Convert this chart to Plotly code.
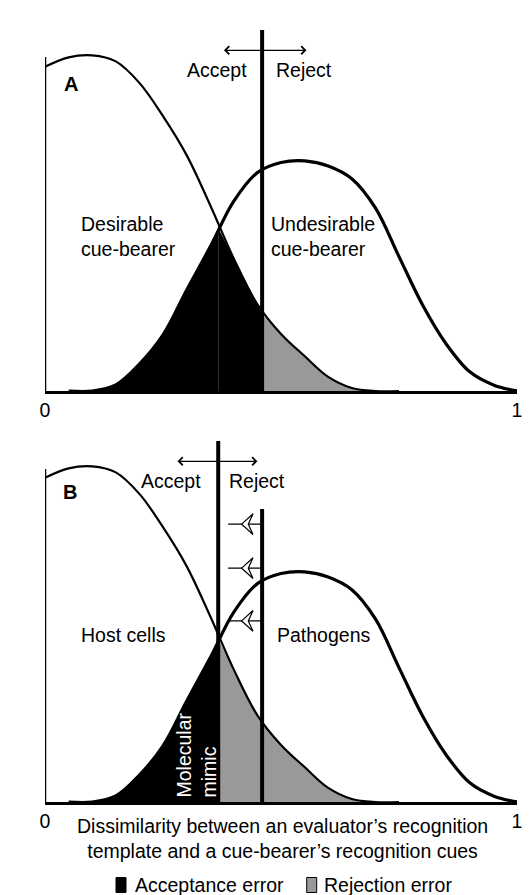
import plotly.graph_objects as go

# ---------------- data ----------------
dissimilarity = [0.00, 0.05, 0.10, 0.15, 0.20, 0.25, 0.30, 0.35, 0.40, 0.45, 0.50,
                 0.55, 0.60, 0.65, 0.70, 0.75, 0.80, 0.85, 0.90, 0.95, 1.00]
desirable = [0.965, 0.993, 0.999, 0.981, 0.917, 0.818, 0.702, 0.553, 0.394, 0.258, 0.170,
             0.104, 0.042, 0.009, 0.0, 0.0, 0.0, 0.0, 0.0, 0.0, 0.0]
undesirable = [0.0, 0.0, 0.0, 0.018, 0.080, 0.167, 0.300, 0.429, 0.565, 0.650, 0.680,
               0.685, 0.670, 0.632, 0.545, 0.400, 0.256, 0.140, 0.057, 0.018, 0.0]

crossing_x = 0.367        # where the two distributions meet
crossing_y = 0.485
threshold_A = 0.46        # acceptance threshold T, panel A
desirable_at_threshold_A = 0.228
threshold_B = 0.367       # acceptance threshold T, panel B (moved to the crossing)
old_threshold_B = 0.46    # former threshold shown in panel B
panel_top = 361 / 336     # y-range top (frequency units)
axis_top_A = 0.994
axis_top_B = 0.991
old_threshold_top = 0.872
shift_arrow_levels = [0.827, 0.696, 0.539]

tick_vals = [0, 1]
tick_text = ["0", "1"]
legend_labels = ["Acceptance error", "Rejection error"]

FONT = "Liberation Sans, Arial, sans-serif"
FS = 19.5
GREY = "#999999"
W, H = 530, 895

fig = go.Figure()


def pts(arr, lo, hi):
    sel = [(x, v) for x, v in zip(dissimilarity, arr) if lo - 1e-9 <= x <= hi + 1e-9]
    return [s[0] for s in sel], [s[1] for s in sel]


def add_fill(xs, ys, color, xa, ya):
    fig.add_trace(go.Scatter(x=xs, y=ys, mode="lines", line=dict(width=0, shape="spline", color=color),
                             fill="tozeroy", fillcolor=color, xaxis=xa, yaxis=ya,
                             showlegend=False, hoverinfo="skip"))


ux, uy = pts(undesirable, 0.10, 0.35)
dx_mid, dy_mid = pts(desirable, 0.40, 0.45)
dx_tail, dy_tail = pts(desirable, 0.50, 0.70)
dx_all, dy_all = pts(desirable, 0.40, 0.70)

# Panel A fills
add_fill(ux + [crossing_x], uy + [crossing_y], "black", "x", "y")
add_fill([crossing_x] + dx_mid + [threshold_A], [crossing_y] + dy_mid + [desirable_at_threshold_A],
         "black", "x", "y")
add_fill([threshold_A] + dx_tail, [desirable_at_threshold_A] + dy_tail, GREY, "x", "y")
# Panel B fills
add_fill(ux + [crossing_x], uy + [crossing_y], "black", "x2", "y2")
add_fill([crossing_x] + dx_all, [crossing_y] + dy_all, GREY, "x2", "y2")

# Curves (drawn over the range where each distribution leaves the baseline)
d_x, d_y = pts(desirable, 0.0, 0.75)
u_x, u_y = pts(undesirable, 0.05, 1.0)
for xa, ya in [("x", "y"), ("x2", "y2")]:
    fig.add_trace(go.Scatter(x=d_x, y=d_y, mode="lines",
                             line=dict(color="black", width=2.2, shape="spline"),
                             xaxis=xa, yaxis=ya, showlegend=False, name="Desirable"))
    fig.add_trace(go.Scatter(x=u_x, y=u_y, mode="lines",
                             line=dict(color="black", width=3.2, shape="spline"),
                             xaxis=xa, yaxis=ya, showlegend=False, name="Undesirable"))

shapes = []
# left axis lines
shapes.append(dict(type="line", xref="x", yref="y", x0=0, x1=0, y0=0, y1=axis_top_A,
                   line=dict(color="black", width=2.5)))
shapes.append(dict(type="line", xref="x2", yref="y2", x0=0, x1=0, y0=0, y1=axis_top_B,
                   line=dict(color="black", width=2.5)))
# thresholds
shapes.append(dict(type="line", xref="x", yref="y", x0=threshold_A, x1=threshold_A, y0=0, y1=panel_top,
                   line=dict(color="black", width=4)))
shapes.append(dict(type="line", xref="x2", yref="y2", x0=threshold_B, x1=threshold_B, y0=0, y1=panel_top,
                   line=dict(color="black", width=4)))
shapes.append(dict(type="line", xref="x2", yref="y2", x0=old_threshold_B, x1=old_threshold_B, y0=0,
                   y1=old_threshold_top, line=dict(color="black", width=4)))
# arrows showing the shift of the threshold (shaft + open stealth head)
for lv in shift_arrow_levels:
    shapes.append(dict(type="line", xref="x2", yref="y2", x0=0.388, x1=old_threshold_B, y0=lv, y1=lv,
                       line=dict(color="black", width=1.3)))
    tip, back, notch, hw = 0.4167, 0.4407, 0.4307, 0.031
    shapes.append(dict(type="path", xref="x2", yref="y2",
                       path=f"M{tip},{lv} L{back},{lv + hw} L{notch},{lv} L{back},{lv - hw} Z",
                       fillcolor="white", line=dict(color="black", width=1.2)))

# manual legend swatches
sw_w, sw_h = 10, 15
for left_px, col in [(116, "black"), (306.7, GREY)]:
    shapes.append(dict(type="rect", xref="paper", yref="paper",
                       x0=left_px / W, x1=(left_px + sw_w) / W,
                       y0=1 - (885 + sw_h / 2) / H, y1=1 - (885 - sw_h / 2) / H,
                       fillcolor=col, line=dict(color="black", width=1)))

ann = []
tf = dict(family=FONT, size=FS, color="black")


def txt(text, x, y, xref, yref, **kw):
    d = dict(text=text, x=x, y=y, xref=xref, yref=yref, showarrow=False, font=kw.pop("font", tf))
    d.update(kw)
    ann.append(d)


# Panel A texts
txt("T", threshold_A, 1.109, "x", "y")
txt("Accept", 0.432, 0.955, "x", "y", xanchor="right")
txt("Reject", 0.485, 0.955, "x", "y", xanchor="left")
txt("<b>A</b>", 0.0557, 0.914, "x", "y", font=dict(family=FONT, size=20, color="black"))
txt("Desirable<br>cue-bearer", 0.072, 0.46, "x", "y", xanchor="left", align="left")
txt("Undesirable<br>cue-bearer", 0.475, 0.46, "x", "y", xanchor="left", align="left")
txt("Frequency", -0.053, 0.509, "x", "y", textangle=-90)
# Panel B texts
txt("T", threshold_B, 1.106, "x2", "y2")
txt("Accept", 0.335, 0.955, "x2", "y2", xanchor="right")
txt("Reject", 0.386, 0.955, "x2", "y2", xanchor="left")
txt("<b>B</b>", 0.0536, 0.923, "x2", "y2", font=dict(family=FONT, size=20, color="black"))
txt("Host cells", 0.072, 0.497, "x2", "y2", xanchor="left")
txt("Pathogens", 0.487, 0.497, "x2", "y2", xanchor="left")
txt("Frequency", -0.053, 0.509, "x2", "y2", textangle=-90)
txt("Molecular<br>mimic", 0.32, 0.006, "x2", "y2", textangle=-90, yanchor="bottom", align="left",
    font=dict(family=FONT, size=FS, color="white"))
txt("Dissimilarity between an evaluator’s recognition<br>template and a cue-bearer’s recognition cues",
    0.504, 1 - 838.5 / H, "x2", "paper", yanchor="middle")
# legend texts
txt(legend_labels[0], 132.7 / W, 1 - 884.5 / H, "paper", "paper", xanchor="left", yanchor="middle")
txt(legend_labels[1], 321.7 / W, 1 - 884.5 / H, "paper", "paper", xanchor="left", yanchor="middle")

# Accept / Reject double arrows
for xr, yr, x0, x1 in [("x", "y", 0.376, 0.554), ("x2", "y2", 0.2775, 0.45)]:
    ann.append(dict(text="", x=x1, y=1.014, ax=x0, ay=1.014, xref=xr, yref=yr, axref=xr, ayref=yr,
                    showarrow=True, arrowside="end+start", arrowhead=4, startarrowhead=4,
                    arrowwidth=1.3, arrowsize=1.2, startarrowsize=1.2, arrowcolor="black"))

xdom = [45 / W, 517 / W]
axis_common = dict(range=[0, 1], showgrid=False, zeroline=False, showline=True, linecolor="black",
                   linewidth=2.5, tickmode="array", tickvals=tick_vals, ticktext=tick_text, ticks="",
                   tickfont=dict(family=FONT, size=FS, color="black"), automargin=False, domain=xdom,
                   fixedrange=True)
yaxis_common = dict(range=[0, panel_top], showgrid=False, zeroline=False, showline=False,
                    showticklabels=False, ticks="", automargin=False, fixedrange=True)

fig.update_layout(
    width=W, height=H, autosize=False,
    margin=dict(l=0, r=0, t=0, b=0),
    paper_bgcolor="white", plot_bgcolor="rgba(0,0,0,0)",
    font=dict(family=FONT, size=FS, color="black"),
    xaxis=dict(axis_common, anchor="y"),
    yaxis=dict(yaxis_common, domain=[1 - 391 / H, 1 - 30 / H], anchor="x"),
    xaxis2=dict(axis_common, anchor="y2"),
    yaxis2=dict(yaxis_common, domain=[1 - 802 / H, 1 - 441 / H], anchor="x2"),
    shapes=shapes,
    annotations=ann,
    showlegend=False,
)

fig.write_html("out.html", config={"displayModeBar": False},
               post_script="document.body.style.margin='0px';")
